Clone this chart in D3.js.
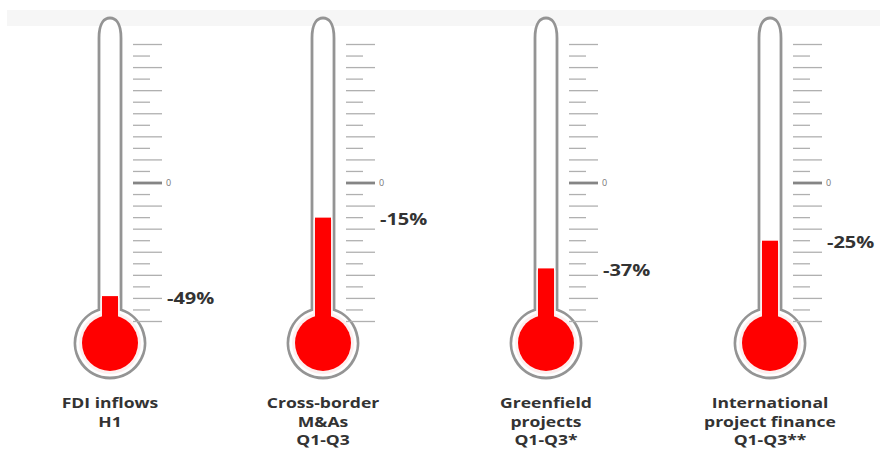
<!DOCTYPE html>
<html>
<head>
<meta charset="utf-8">
<script src="https://cdn.jsdelivr.net/npm/d3@7/dist/d3.min.js"></script>
<style>
  html, body { margin: 0; padding: 0; background: #fff; }
  svg { display: block; }
</style>
</head>
<body>
<svg id="chart" width="888" height="452"></svg>
<script>
// Categories (multi-line captions) and their percentage changes
const categories = ["FDI inflows", "Cross-border M&As", "Greenfield projects", "International project finance"];
const captionLines = [
  ["FDI inflows", "H1"],
  ["Cross-border", "M&As", "Q1-Q3"],
  ["Greenfield", "projects", "Q1-Q3*"],
  ["International", "project finance", "Q1-Q3**"]
];
const values = [-49, -15, -37, -25];
const valueLabels = ["-49%", "-15%", "-37%", "-25%"];
// Scale ticks every 5 points, -60 .. 60
const tickValues = d3.range(-60, 61, 5);

const svg = d3.select("#chart");

// faint band along the top
svg.append("rect").attr("x", 7).attr("y", 10).attr("width", 873).attr("height", 16)
  .attr("fill", "#f6f6f6");

const x = d3.scaleOrdinal().domain(categories).range([110, 323, 546, 770]);
const y = d3.scaleLinear().domain([-60, 60]).range([321.5, 44.5]);

const tubeTop = 18, halfW = 11, capH = 20;
const bulbCy = 343, bulbR = 35, redR = 28, fillHalf = 8;
const joinDy = Math.sqrt(bulbR * bulbR - halfW * halfW);
const font = "Open Sans, sans-serif";

categories.forEach((cat, i) => {
  const cx = x(cat);
  const g = svg.append("g");

  // glass outline: tube with rounded top joined to the bulb
  const jy = bulbCy - joinDy;
  const p = d3.path();
  p.moveTo(cx - halfW, jy);
  p.lineTo(cx - halfW, tubeTop + capH);
  p.bezierCurveTo(cx - halfW, tubeTop + 4, cx - 5, tubeTop, cx, tubeTop);
  p.bezierCurveTo(cx + 5, tubeTop, cx + halfW, tubeTop + 4, cx + halfW, tubeTop + capH);
  p.lineTo(cx + halfW, jy);
  p.arc(cx, bulbCy, bulbR, -Math.PI / 2 + Math.asin(halfW / bulbR), 3 * Math.PI / 2 - Math.asin(halfW / bulbR));
  p.closePath();
  g.append("path").attr("d", p.toString())
    .attr("fill", "#fff").attr("stroke", "#949494").attr("stroke-width", 2.8);

  // soft ring around the mercury bulb
  g.append("circle").attr("cx", cx).attr("cy", bulbCy).attr("r", redR + 3)
    .attr("fill", "#fdeeee");
  g.append("rect").attr("x", cx - fillHalf - 1.5).attr("width", 2 * fillHalf + 3)
    .attr("y", y(values[i]) + 2).attr("height", bulbCy - y(values[i]))
    .attr("fill", "#fdeeee");

  // mercury column and bulb
  g.append("rect").attr("x", cx - fillHalf).attr("width", 2 * fillHalf)
    .attr("y", y(values[i])).attr("height", bulbCy - y(values[i]))
    .attr("fill", "#ff0000");
  g.append("circle").attr("cx", cx).attr("cy", bulbCy).attr("r", redR)
    .attr("fill", "#ff0000");

  // scale ticks
  g.selectAll("line.tick").data(tickValues).join("line")
    .attr("class", "tick")
    .attr("x1", cx + 23)
    .attr("x2", d => cx + (d % 10 === 0 ? 52 : 40))
    .attr("y1", d => y(d)).attr("y2", d => y(d))
    .attr("stroke", d => d === 0 ? "#858585" : "#b0b0b0")
    .attr("stroke-width", d => d === 0 ? 2.8 : 1.3);

  g.append("text").attr("x", cx + 56).attr("y", y(0)).attr("dy", "0.35em")
    .attr("font-family", font).attr("font-size", 9)
    .attr("fill", "#777").text("0");

  // value label (set slightly wide)
  g.append("text")
    .attr("transform", `translate(${cx + 57},${y(values[i]) + 2}) scale(1.25,1)`)
    .attr("dy", "0.36em")
    .attr("font-family", font).attr("font-weight", 700)
    .attr("font-size", 16).attr("fill", "#333").text(valueLabels[i]);

  // caption, one text per line (set slightly wide)
  captionLines[i].forEach((line, k) => {
    g.append("text").attr("text-anchor", "middle")
      .attr("transform", `translate(${cx},${408 + k * 18.5}) scale(1.3,1)`)
      .attr("font-family", font).attr("font-weight", 700)
      .attr("font-size", 13.5).attr("fill", "#333").text(line);
  });
});
</script>
</body>
</html>
